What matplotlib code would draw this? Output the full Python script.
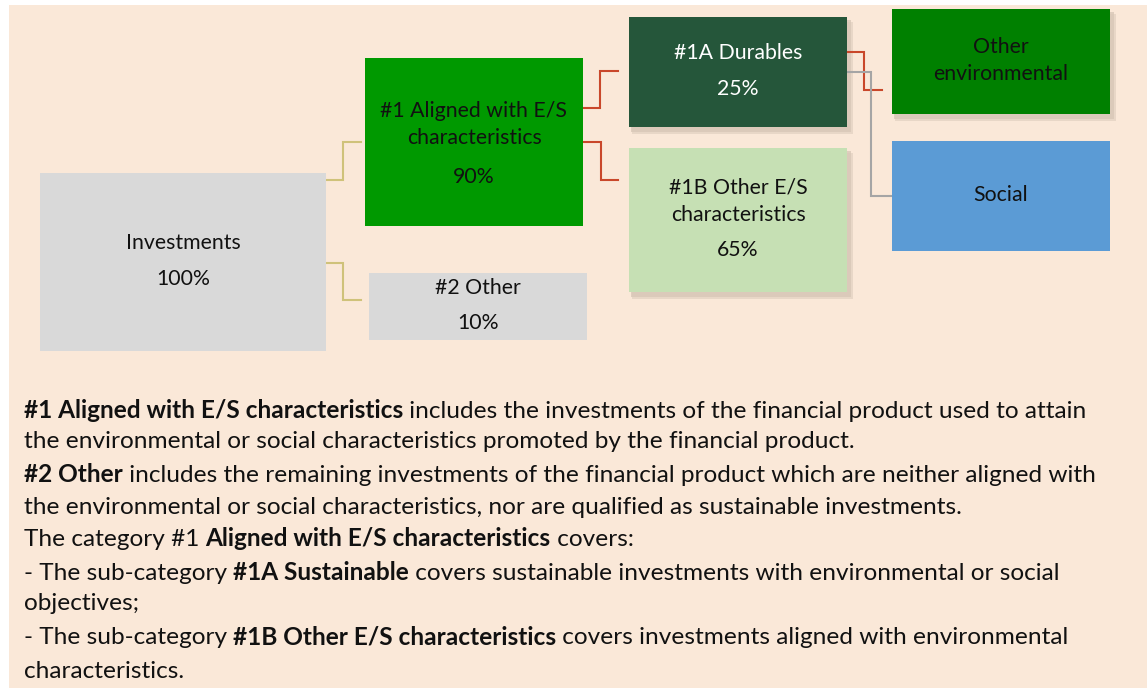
import matplotlib.pyplot as plt
from matplotlib.patches import Rectangle

plt.rcParams['font.family'] = ['Lato', 'DejaVu Sans']

# Datos de las cajas
labels = ["Investments", "#1 Aligned with E/S\ncharacteristics", "#2 Other",
          "#1A Durables", "#1B Other E/S\ncharacteristics",
          "Other\nenvironmental", "Social"]
shares = ["100%", "90%", "10%", "25%", "65%", "", ""]

# Texto explicativo (partes en negrita marcadas con True)
notes = [
    [("#1 Aligned with E/S characteristics", True),
     (" includes the investments of the financial product used to attain", False)],
    [("the environmental or social characteristics promoted by the financial product.", False)],
    [("#2 Other", True),
     (" includes the remaining investments of the financial product which are neither aligned with", False)],
    [("the environmental or social characteristics, nor are qualified as sustainable investments.", False)],
    [("The category #1 ", False), ("Aligned with E/S characteristics", True), (" covers:", False)],
    [("- The sub-category ", False), ("#1A Sustainable", True),
     (" covers sustainable investments with environmental or social", False)],
    [("objectives;", False)],
    [("- The sub-category ", False), ("#1B Other E/S characteristics", True),
     (" covers investments aligned with environmental", False)],
    [("characteristics.", False)],
]

# Geometria (pixeles): x0, y0, x1, y1
boxes = [(40, 173, 326, 351), (365, 58, 583, 226), (369, 273, 587, 340),
         (629, 17, 847, 127), (629, 148, 847, 292),
         (892, 9, 1110, 114), (892, 141, 1110, 251)]
fills = ["#D9D9D9", "#009900", "#D9D9D9", "#25563A", "#C6E0B4", "#008000", "#5B9BD5"]
txt_colors = ["#111111", "#111111", "#111111", "white", "#111111", "#111111", "#111111"]
shadow = [False, False, False, True, True, True, False]
label_y = [243, 111, 288, 53, 188, 47, 195]   # primera linea
share_y = [279, 177, 323, 89, 250, None, None]
line_step = 27

fig = plt.figure(figsize=(11.47, 6.88), dpi=100)
ax = fig.add_axes([0, 0, 1, 1])
ax.set_xlim(0, 1147)
ax.set_ylim(688, 0)
ax.axis('off')

# fondo
ax.add_patch(Rectangle((9, 5), 1147, 700, facecolor="#FAE8D8", edgecolor='none', zorder=0))
ax.text(617, -4, "g", fontsize=17, ha='center', va='baseline', color='#111111', clip_on=True)

for (x0, y0, x1, y1), fc, tc, sh, lab, pct, ly, py in zip(boxes, fills, txt_colors, shadow,
                                                          labels, shares, label_y, share_y):
    if sh:
        ax.add_patch(Rectangle((x0 + 2, y0 + 3), x1 - x0 + 2, y1 - y0 + 2,
                               facecolor="#C9B9A9", edgecolor='none', alpha=0.55, zorder=1))
        ax.add_patch(Rectangle((x0 + 3, y0 + 5), x1 - x0 + 3, y1 - y0 + 2,
                               facecolor="#D8C8B8", edgecolor='none', alpha=0.5, zorder=1))
    ax.add_patch(Rectangle((x0, y0), x1 - x0, y1 - y0, facecolor=fc, edgecolor='none', zorder=2))
    xc = (x0 + x1) / 2
    for k, line in enumerate(lab.split("\n")):
        ax.text(xc, ly + k * line_step, line, ha='center', va='center', fontsize=15.3,
                color=tc, zorder=3)
    if pct:
        ax.text(xc, py, pct, ha='center', va='center', fontsize=15.3, color=tc, zorder=3)

# conectores
conn = [
    ([326, 343, 343, 361], [180, 180, 142, 142], "#CFC27A"),
    ([326, 343, 343, 361], [263, 263, 300, 300], "#CFC27A"),
    ([583, 600, 600, 618], [108, 108, 71, 71], "#C9472A"),
    ([583, 601, 601, 618], [142, 142, 180, 180], "#C9472A"),
    ([847, 864, 864, 882], [52, 52, 90, 90], "#C9472A"),
    ([847, 871, 871, 892], [72, 72, 196, 196], "#A5A5A5"),
]
for xs, ys, c in conn:
    ax.plot(xs, ys, color=c, lw=1.5, zorder=1.5, solid_joinstyle='miter')

# texto inferior
note_y = [411, 441, 475, 507, 540, 574, 604, 638, 671]
for parts, y in zip(notes, note_y):
    prev = None
    for s, bold in parts:
        w = 'bold' if bold else 'normal'
        if prev is None:
            prev = ax.text(24, y, s, fontsize=17.6, fontweight=w, ha='left', va='center',
                           color='#111111')
        else:
            prev = ax.annotate(s, xy=(1, 0), xycoords=prev, ha='left', va='bottom',
                               fontsize=17.6, fontweight=w, color='#111111')

fig.savefig("out.png", dpi=100, facecolor='white')
